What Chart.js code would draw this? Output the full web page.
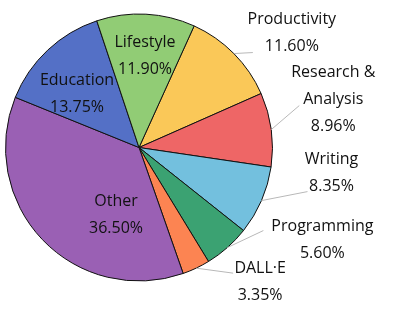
<!DOCTYPE html>
<html>
<head>
<meta charset="utf-8">
<script src="https://cdn.jsdelivr.net/npm/chart.js@4/dist/chart.umd.min.js"></script>
<style>
  html, body { margin: 0; padding: 0; background: #fff; }
  #wrap { width: 399px; height: 311px; }
</style>
</head>
<body>
<div id="wrap"><canvas id="pie"></canvas></div>
<script>
const categories = ["Productivity", "Research & Analysis", "Writing", "Programming", "DALL·E", "Other", "Education", "Lifestyle"];
const shares = [11.60, 8.96, 8.35, 5.60, 3.35, 36.50, 13.75, 11.90];
const labelLines = [["Productivity"], ["Research &", "Analysis"], ["Writing"], ["Programming"], ["DALL·E"], ["Other"], ["Education"], ["Lifestyle"]];
const colors = ["#fac858", "#ee6666", "#73c0de", "#3ba272", "#fc8452", "#9a60b4", "#5470c6", "#91cc75"];

// label placement: inside labels are offset from the pie centre,
// outside labels get a leader line (lead) and a text offset from its end
const labelLayout = [
    { lead: [19, -1], text: [39, -20] },
    { lead: [28, -24], text: [34, -6] },
    { lead: [46, -9], text: [24, -19] },
    { lead: [36, -17], text: [59, 9] },
    { lead: [37, 5], text: [27, 9] },
    { inside: [-23, 67] },
    { inside: [-62, -54] },
    { inside: [6, -92] }
];

const fontFamily = "'Open Sans', 'Noto Sans', sans-serif";
const lineGap = 27;

const sliceLabels = {
    id: "sliceLabels",
    afterDatasetsDraw(chart) {
        const ctx = chart.ctx;
        const arcs = chart.getDatasetMeta(0).data;
        ctx.save();
        ctx.font = "16px " + fontFamily;
        ctx.textAlign = "center";
        ctx.textBaseline = "middle";
        arcs.forEach((arc, i) => {
            const p = arc.getProps(["x", "y", "startAngle", "endAngle", "outerRadius"], true);
            const mid = (p.startAngle + p.endAngle) / 2;
            const lay = labelLayout[i];
            let tx, ty;
            if (lay.inside) {
                tx = p.x + lay.inside[0];
                ty = p.y + lay.inside[1];
            } else {
                const sx = p.x + p.outerRadius * Math.cos(mid);
                const sy = p.y + p.outerRadius * Math.sin(mid);
                const ex = sx + lay.lead[0];
                const ey = sy + lay.lead[1];
                ctx.strokeStyle = "#b8b8b8";
                ctx.lineWidth = 1;
                ctx.beginPath();
                ctx.moveTo(sx, sy);
                ctx.lineTo(ex, ey);
                ctx.stroke();
                tx = ex + lay.text[0];
                ty = ey + lay.text[1];
            }
            const lines = labelLines[i].concat([shares[i].toFixed(2) + "%"]);
            ctx.fillStyle = "#111";
            lines.forEach((t, k) => {
                ctx.fillText(t, tx, ty + (k - (lines.length - 1) / 2) * lineGap);
            });
        });
        ctx.restore();
    }
};

new Chart(document.getElementById("pie"), {
    type: "pie",
    data: {
        labels: categories,
        datasets: [{
            data: shares,
            backgroundColor: colors,
            borderColor: "#111",
            borderWidth: 1
        }]
    },
    options: {
        responsive: true,
        maintainAspectRatio: false,
        animation: false,
        rotation: 24.4,
        layout: { padding: { left: 5, right: 126, top: 13, bottom: 29 } },
        plugins: {
            legend: { display: false },
            tooltip: { enabled: false }
        }
    },
    plugins: [sliceLabels]
});
</script>
</body>
</html>
